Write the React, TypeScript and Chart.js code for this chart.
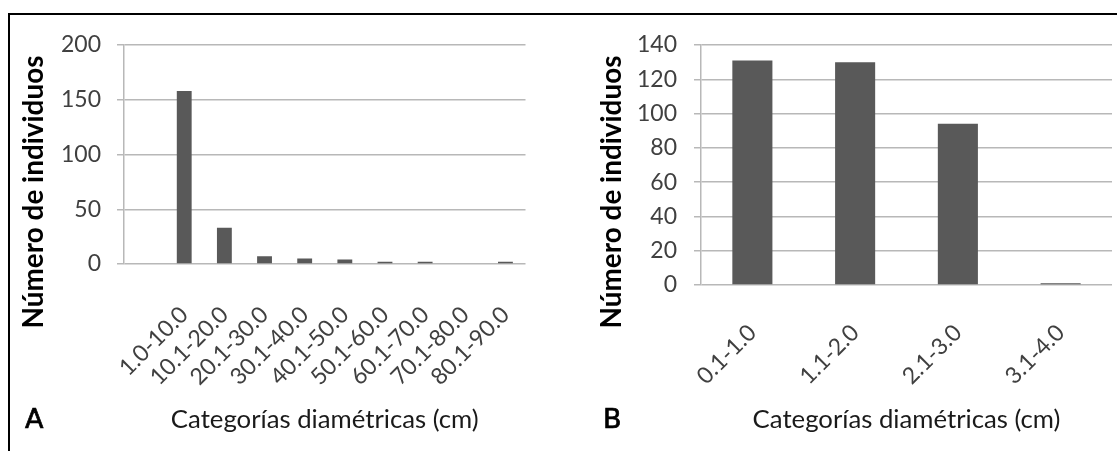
import React, { useEffect, useRef } from "react";
import { Chart, registerables } from "chart.js";

Chart.register(...registerables);

// ---- Data ----
const categoriesA = ["", "1.0-10.0", "10.1-20.0", "20.1-30.0", "30.1-40.0", "40.1-50.0", "50.1-60.0", "60.1-70.0", "70.1-80.0", "80.1-90.0"];
const valuesA = [null, 158, 33, 7, 5, 4, 2, 2, 0, 2];
const yMaxA = 200;
const yStepA = 50;

const categoriesB = ["0.1-1.0", "1.1-2.0", "2.1-3.0", "3.1-4.0"];
const valuesB = [131, 130, 94, 1];
const yMaxB = 140;
const yStepB = 20;

const yAxisTitle = "Número de individuos";
const xAxisTitle = "Categorías diamétricas (cm)";
const panelLetters = ["A", "B"];

const FONT = "Lato, 'Open Sans', sans-serif";
const BAR = "#595959";
const GRID = "#b8b8b8";
const TICK = "#404040";

// draw text so that its advance width equals a target length
function fitFont(ctx: CanvasRenderingContext2D, text: string, weight: string, target: number) {
  ctx.font = `${weight} 100px ${FONT}`;
  const w = ctx.measureText(text).width;
  const size = (100 * target) / w;
  ctx.font = `${weight} ${size}px ${FONT}`;
}

const textPlugin = {
  id: "panelTexts",
  afterDraw(chart: any, _args: any, opts: any) {
    const ctx = chart.ctx as CanvasRenderingContext2D;
    const ca = chart.chartArea;
    // y-axis title
    ctx.save();
    ctx.fillStyle = "#000";
    fitFont(ctx, opts.yTitle, "bold", opts.yTitleLen);
    ctx.translate(opts.yTitleX, opts.yTitleCY);
    ctx.rotate(-Math.PI / 2);
    ctx.textAlign = "center";
    ctx.textBaseline = "alphabetic";
    ctx.fillText(opts.yTitle, 0, 0);
    ctx.restore();
    // x-axis title
    ctx.save();
    ctx.fillStyle = "#1a1a1a";
    fitFont(ctx, opts.xTitle, "normal", opts.xTitleLen);
    ctx.textAlign = "center";
    ctx.textBaseline = "alphabetic";
    ctx.fillText(opts.xTitle, (ca.left + ca.right) / 2, opts.baseY);
    ctx.restore();
    // panel letter
    ctx.save();
    ctx.fillStyle = "#000";
    ctx.strokeStyle = "#000";
    ctx.lineWidth = 0.7;
    ctx.font = `${opts.letterSize}px 'DejaVu Sans', sans-serif`;
    ctx.textAlign = "left";
    ctx.textBaseline = "alphabetic";
    ctx.fillText(opts.letter, opts.letterX, opts.baseY);
    ctx.strokeText(opts.letter, opts.letterX, opts.baseY);
    ctx.restore();
  },
};

type PanelProps = {
  left: number;
  width: number;
  labels: string[];
  values: (number | null)[];
  yMax: number;
  yStep: number;
  areaLeft: number;
  areaRight: number;
  areaTop: number;
  areaBottom: number;
  barPct: number;
  yTickPad: number;
  xTickPad: number;
  yTitleX: number;
  letter: string;
  letterX: number;
};

const H = 451;

function Panel(p: PanelProps) {
  const ref = useRef<HTMLCanvasElement | null>(null);
  useEffect(() => {
    if (!ref.current) return;
    const chart = new Chart(ref.current, {
      type: "bar",
      data: {
        labels: p.labels,
        datasets: [
          {
            data: p.values as any,
            backgroundColor: BAR,
            borderWidth: 0,
            barPercentage: p.barPct,
            categoryPercentage: 1,
          },
        ],
      },
      plugins: [textPlugin as any],
      options: {
        responsive: false,
        animation: false,
        events: [],
        layout: {
          padding: { top: p.areaTop, left: 0, right: p.width - p.areaRight, bottom: 0 },
        },
        plugins: {
          legend: { display: false },
          tooltip: { enabled: false },
          panelTexts: {
            yTitle: yAxisTitle,
            yTitleLen: 273,
            yTitleX: p.yTitleX,
            yTitleCY: 192,
            xTitle: xAxisTitle,
            xTitleLen: 308,
            baseY: 428,
            letter: p.letter,
            letterX: p.letterX,
            letterSize: 27,
          },
        } as any,
        scales: {
          x: {
            grid: { display: false },
            border: { display: false },
            ticks: {
              color: TICK,
              font: { family: FONT, size: 23 },
              minRotation: 45,
              maxRotation: 45,
              padding: p.xTickPad,
              autoSkip: false,
            },
            afterFit: (s: any) => {
              s.height = H - p.areaBottom;
            },
          },
          y: {
            min: 0,
            max: p.yMax,
            ticks: {
              stepSize: p.yStep,
              color: TICK,
              font: { family: FONT, size: 23 },
              padding: p.yTickPad,
            },
            grid: { color: GRID, lineWidth: 1.5, tickLength: 7 },
            border: { display: true, color: GRID, width: 1.5 },
            afterFit: (s: any) => {
              s.width = p.areaLeft;
            },
          },
        },
      },
    });
    return () => chart.destroy();
  }, []);
  return (
    <canvas
      ref={ref}
      width={p.width}
      height={H}
      style={{ position: "absolute", left: p.left, top: 0, width: p.width, height: H }}
    />
  );
}

export default function App() {
  return (
    <div
      style={{
        position: "fixed",
        left: 0,
        top: 0,
        width: 1117,
        height: 451,
        background: "#fff",
        overflow: "hidden",
      }}
    >
      <Panel
        left={10}
        width={545}
        labels={categoriesA}
        values={valuesA}
        yMax={yMaxA}
        yStep={yStepA}
        areaLeft={114}
        areaRight={524}
        areaTop={45}
        areaBottom={264}
        barPct={0.37}
        yTickPad={16}
        xTickPad={29}
        yTitleX={32.5}
        letter={panelLetters[0]}
        letterX={15}
      />
      <Panel
        left={560}
        width={557}
        labels={categoriesB}
        values={valuesB}
        yMax={yMaxB}
        yStep={yStepB}
        areaLeft={141}
        areaRight={552}
        areaTop={45}
        areaBottom={285}
        barPct={0.39}
        yTickPad={17}
        xTickPad={26}
        yTitleX={61}
        letter={panelLetters[1]}
        letterX={43}
      />
      <div style={{ position: "absolute", left: 8, top: 13, width: 1109, height: 2, background: "#000" }} />
      <div style={{ position: "absolute", left: 8, top: 13, width: 2, height: 438, background: "#000" }} />
    </div>
  );
}
